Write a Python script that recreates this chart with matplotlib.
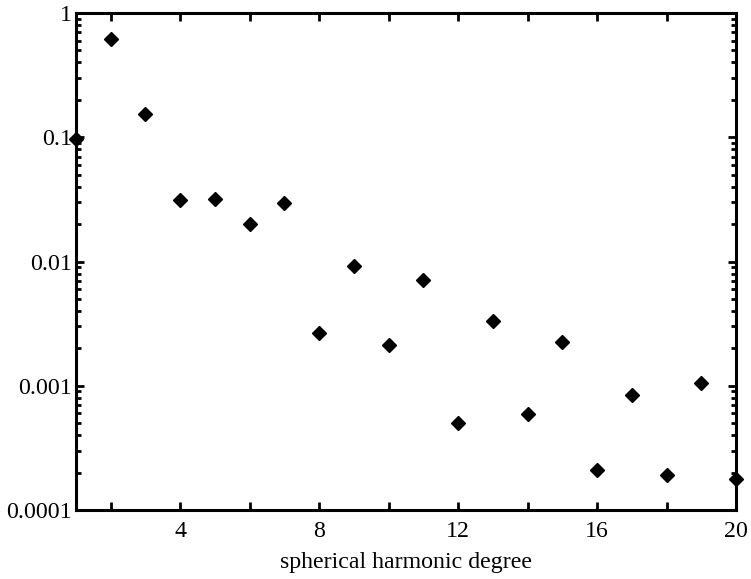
import matplotlib
matplotlib.use("Agg")
import matplotlib.pyplot as plt
from matplotlib.ticker import FixedLocator, FuncFormatter, LogLocator, NullFormatter

degree = list(range(1, 21))
power = [0.0963, 0.618, 0.154, 0.0313, 0.032, 0.0201, 0.0296, 0.00266, 0.00915, 0.00213,
         0.00714, 0.000499, 0.00332, 0.000593, 0.00226, 0.00021, 0.000848, 0.00019, 0.00106, 0.000179]
x_ticks = [2, 4, 6, 8, 10, 12, 14, 16, 18, 20]
x_labeled = [4, 8, 12, 16, 20]
y_ticks = [0.0001, 0.001, 0.01, 0.1, 1]
y_labels = ["0.0001", "0.001", "0.01", "0.1", "1"]
xlabel = "spherical harmonic degree"

plt.rcParams['font.family'] = ['Liberation Serif', 'DejaVu Serif']
plt.rcParams['font.size'] = 17.2

fig = plt.figure(figsize=(7.51, 5.79), dpi=100)
ax = fig.add_axes([0.1012, 0.1192, 0.879, 0.8583])

ax.plot(degree, power, linestyle='none', marker='D', markersize=7, color='black', clip_on=False, zorder=5)
ax.set_yscale('log')
ax.set_xlim(1, 20)
ax.set_ylim(0.0001, 1)

ax.xaxis.set_major_locator(FixedLocator(x_ticks))
ax.xaxis.set_major_formatter(FuncFormatter(lambda v, p: str(int(round(v))) if int(round(v)) in x_labeled else ""))
ax.yaxis.set_major_locator(FixedLocator(y_ticks))
ax.yaxis.set_major_formatter(FuncFormatter(lambda v, p: dict(zip(y_ticks, y_labels)).get(min(y_ticks, key=lambda t: abs(t - v)), "")))
ax.yaxis.set_minor_locator(LogLocator(base=10, subs=range(2, 10), numticks=20))
ax.yaxis.set_minor_formatter(NullFormatter())

for s in ax.spines.values():
    s.set_linewidth(2.2)
ax.tick_params(which='both', direction='in', top=True, right=True, width=2.0, colors='black')
ax.tick_params(which='major', length=5.5)
ax.tick_params(which='minor', length=3.5)
ax.tick_params(axis='y', which='major', length=6, pad=3)
ax.tick_params(axis='x', which='major', pad=8)

ax.set_xlabel(xlabel, fontsize=17.2, labelpad=7)

fig.savefig("out.png", dpi=100)
